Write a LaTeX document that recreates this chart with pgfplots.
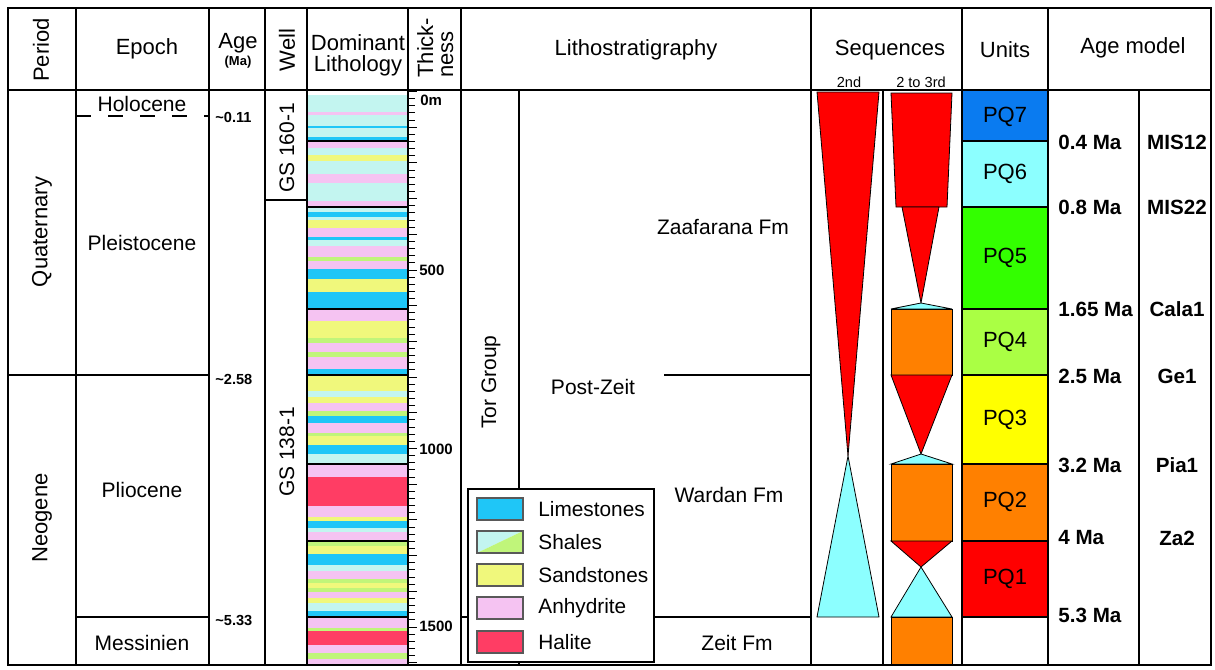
\documentclass[border=0pt]{standalone}
\usepackage{fontspec}
\setmainfont{Liberation Sans}
\usepackage{pgfplots}
\pgfplotsset{compat=1.18}

% lithology colours
\definecolor{shale}{HTML}{C3F5F0}
\definecolor{shgreen}{HTML}{C0F57A}
\definecolor{anhy}{HTML}{F5C3F2}
\definecolor{sand}{HTML}{F0F87C}
\definecolor{lime}{HTML}{1FC6F7}
\definecolor{hal}{HTML}{FF3D64}
% sequence and unit colours
\definecolor{sred}{HTML}{FF0000}
\definecolor{scyan}{HTML}{8CFFFF}
\definecolor{sorange}{HTML}{FF8000}
\definecolor{pqseven}{HTML}{0A7BF0}
\definecolor{pqsix}{HTML}{8CFFFF}
\definecolor{pqfive}{HTML}{33FF00}
\definecolor{pqfour}{HTML}{AAFF44}
\definecolor{pqthree}{HTML}{FFFF00}
\definecolor{pqtwo}{HTML}{FF8000}
\definecolor{pqone}{HTML}{FF0000}

% a lithology bed: colour, top, base
\newcommand{\bed}[3]{\addplot[draw=none, fill=#1] coordinates {(308,#2) (408,#2) (408,#3) (308,#3)} -- cycle;}
% filled box: colour, x1, x2, top, base
\newcommand{\fillbox}[5]{\addplot[draw=none, fill=#1] coordinates {(#2,#4) (#3,#4) (#3,#5) (#2,#5)} -- cycle;}
% horizontal rule: y, x1, x2
\newcommand{\hseg}[3]{\addplot[black, line width=1pt] coordinates {(#2,#1) (#3,#1)};}
% vertical rule: x, y1, y2
\newcommand{\vseg}[3]{\addplot[black, line width=1pt] coordinates {(#1,#2) (#1,#3)};}

\newcommand{\fs}[1]{\fontsize{#1}{#1}\selectfont}

\begin{document}
\begin{tikzpicture}
\begin{axis}[name=main,
  scale only axis, width=607.5pt, height=334pt,
  xmin=0, xmax=1215, ymin=0, ymax=668, y dir=reverse,
  hide axis, clip=false, line cap=rect]

% ---- lithology column (GS 160-1 and GS 138-1)
\bed{shale}{95}{111.7}
\bed{anhy}{111.7}{115}
\bed{shale}{115}{126}
\bed{lime}{126}{127.7}
\bed{shale}{127.7}{136.7}
\bed{lime}{136.7}{141}
\bed{anhy}{141}{147.7}
\bed{shale}{147.7}{155}
\bed{sand}{155}{160.7}
\bed{shale}{160.7}{174}
\bed{anhy}{174}{183.3}
\bed{shale}{183.3}{201}
\bed{anhy}{201}{206.5}
\bed{shale}{206.5}{211.7}
\bed{lime}{211.7}{216.7}
\bed{shale}{216.7}{220}
\bed{sand}{220}{227.7}
\bed{anhy}{227.7}{236.7}
\bed{lime}{236.7}{240}
\bed{shale}{240}{245.7}
\bed{anhy}{245.7}{256.7}
\bed{shgreen}{256.7}{261}
\bed{anhy}{261}{269}
\bed{lime}{269}{279}
\bed{sand}{279}{292}
\bed{lime}{292}{309}
\bed{anhy}{309}{320.7}
\bed{sand}{320.7}{338.3}
\bed{shgreen}{338.3}{343.3}
\bed{anhy}{343.3}{352.3}
\bed{shgreen}{352.3}{357.3}
\bed{anhy}{357.3}{368.7}
\bed{lime}{368.7}{375}
\bed{sand}{375}{390.7}
\bed{shale}{390.7}{397.3}
\bed{sand}{397.3}{403.3}
\bed{anhy}{403.3}{411}
\bed{shgreen}{411}{415.7}
\bed{lime}{415.7}{423.3}
\bed{anhy}{423.3}{433.3}
\bed{shgreen}{433.3}{436}
\bed{sand}{436}{445}
\bed{lime}{445}{454}
\bed{shale}{454}{464}
\bed{anhy}{464}{476.7}
\bed{hal}{476.7}{506}
\bed{anhy}{506}{517.3}
\bed{sand}{517.3}{520.7}
\bed{lime}{520.7}{528.3}
\bed{shale}{528.3}{531.7}
\bed{anhy}{531.7}{541}
\bed{shgreen}{541}{546}
\bed{sand}{546}{554}
\bed{lime}{554}{565}
\bed{shale}{565}{571}
\bed{anhy}{571}{579.3}
\bed{shgreen}{579.3}{582.7}
\bed{sand}{582.7}{588.3}
\bed{shgreen}{588.3}{591.7}
\bed{anhy}{591.7}{597.7}
\bed{sand}{597.7}{603.3}
\bed{shale}{603.3}{610.7}
\bed{lime}{610.7}{617}
\bed{anhy}{617}{627.7}
\bed{shgreen}{627.7}{631}
\bed{hal}{631}{645}
\bed{anhy}{645}{652.7}
\bed{shgreen}{652.7}{659.3}
\bed{anhy}{659.3}{665}
% core boundaries
\hseg{141}{308}{408}
\hseg{206.5}{308}{408}
\hseg{309}{308}{408}
\hseg{375}{308}{408}
\hseg{464}{308}{408}
\hseg{541}{308}{408}
\hseg{617}{308}{408}

% ---- sequences, 2nd order
\addplot[fill=sred, draw=black, line width=0.4pt] coordinates {(817,92) (879,92) (848,456)} -- cycle;
\addplot[fill=scyan, draw=black, line width=0.4pt] coordinates {(848,456) (879,617) (817,617)} -- cycle;
% ---- sequences, 2nd to 3rd order
\addplot[fill=sred, draw=black, line width=0.4pt] coordinates {(891,93) (952,93) (947,207) (896,207)} -- cycle;
\addplot[fill=sred, draw=black, line width=0.4pt] coordinates {(902,207) (939,207) (921,303)} -- cycle;
\addplot[fill=scyan, draw=black, line width=0.4pt] coordinates {(921,303) (952,309) (891,309)} -- cycle;
\addplot[fill=sorange, draw=black, line width=0.4pt] coordinates {(891,309) (952,309) (952,375) (891,375)} -- cycle;
\addplot[fill=sred, draw=black, line width=0.4pt] coordinates {(891,375) (952,375) (921,454)} -- cycle;
\addplot[fill=scyan, draw=black, line width=0.4pt] coordinates {(921,454) (952,464) (891,464)} -- cycle;
\addplot[fill=sorange, draw=black, line width=0.4pt] coordinates {(891,464) (952,464) (952,541) (891,541)} -- cycle;
\addplot[fill=sred, draw=black, line width=0.4pt] coordinates {(891,541) (952,541) (921,567)} -- cycle;
\addplot[fill=scyan, draw=black, line width=0.4pt] coordinates {(921,567) (952,617) (891,617)} -- cycle;
\addplot[fill=sorange, draw=black, line width=0.4pt] coordinates {(891,617) (952,617) (952,665) (891,665)} -- cycle;

% ---- units
\fillbox{pqseven}{962}{1048}{90}{141}
\fillbox{pqsix}{962}{1048}{141}{207}
\fillbox{pqfive}{962}{1048}{207}{309}
\fillbox{pqfour}{962}{1048}{309}{375}
\fillbox{pqthree}{962}{1048}{375}{464}
\fillbox{pqtwo}{962}{1048}{464}{541}
\fillbox{pqone}{962}{1048}{541}{617}
\hseg{141}{962}{1048}
\hseg{207}{962}{1048}
\hseg{309}{962}{1048}
\hseg{375}{962}{1048}
\hseg{464}{962}{1048}
\hseg{541}{962}{1048}
\hseg{617}{962}{1048}

% ---- frame and column rules
\hseg{8}{8}{1211}
\hseg{90}{8}{1211}
\hseg{665}{8}{1211}
\vseg{8}{8}{665}
\vseg{76}{8}{665}
\vseg{209}{8}{665}
\vseg{265}{8}{665}
\vseg{307}{8}{665}
\vseg{408}{8}{665}
\vseg{461}{8}{665}
\vseg{519}{90}{665}
\vseg{811}{8}{665}
\vseg{883}{90}{665}
\vseg{962}{8}{665}
\vseg{1048}{8}{665}
\vseg{1139}{90}{665}
\vseg{1211}{8}{665}
\hseg{375}{8}{209}
\hseg{617}{76}{209}
\addplot[black, line width=1pt, line cap=butt, dash pattern=on 7.5pt off 8.5pt] coordinates {(76,116) (209,116)};
\hseg{200}{265}{307}
\hseg{375}{665}{811}
\hseg{617}{461}{811}

% ---- legend
\addplot[fill=white, draw=black, line width=1pt] coordinates {(468,489) (654,489) (654,662) (468,662)} -- cycle;
\addplot[fill=lime, draw=black!65, line width=0.6pt] coordinates {(477,498) (523,498) (523,520) (477,520)} -- cycle;
\addplot[fill=shale, draw=none] coordinates {(477,531) (523,531) (477,553)} -- cycle;
\addplot[fill=shgreen, draw=none] coordinates {(523,531) (523,553) (477,553)} -- cycle;
\addplot[draw=black!65, line width=0.6pt] coordinates {(477,531) (523,531) (523,553) (477,553)} -- cycle;
\addplot[fill=sand, draw=black!65, line width=0.6pt] coordinates {(477,564) (523,564) (523,586) (477,586)} -- cycle;
\addplot[fill=anhy, draw=black!65, line width=0.6pt] coordinates {(477,597) (523,597) (523,619) (477,619)} -- cycle;
\addplot[fill=hal, draw=black!65, line width=0.6pt] coordinates {(477,631) (523,631) (523,653) (477,653)} -- cycle;
\node[anchor=west, inner sep=0pt, font=\fs{10.4pt}] at (538,509) {Limestones};
\node[anchor=west, inner sep=0pt, font=\fs{10.4pt}] at (538,542) {Shales};
\node[anchor=west, inner sep=0pt, font=\fs{10.4pt}] at (538,575) {Sandstones};
\node[anchor=west, inner sep=0pt, font=\fs{10.4pt}] at (538,608) {Anhydrite};
\node[anchor=west, inner sep=0pt, font=\fs{10.4pt}] at (538,642) {Halite};

% ---- header
\node[rotate=90, font=\fs{11pt}] at (41,50) {Period};
\node[font=\fs{11pt}] at (147,49) {Epoch};
\node[font=\fs{11pt}] at (238,43) {Age};
\node[font=\fs{6.5pt}\bfseries] at (238,62) {(Ma)};
\node[rotate=90, font=\fs{11pt}] at (287,50) {Well};
\node[font=\fs{11pt}] at (358,43) {Dominant};
\node[font=\fs{11pt}] at (358,66) {Lithology};
\node[rotate=90, anchor=base west, font=\fs{11pt}, inner sep=0pt] at (433,78) {Thick-};
\node[rotate=90, anchor=base west, font=\fs{11pt}, inner sep=0pt] at (453,78) {ness};
\node[font=\fs{11pt}] at (636,50) {Lithostratigraphy};
\node[font=\fs{11pt}] at (890,50) {Sequences};
\node[font=\fs{7.3pt}] at (849,82) {2nd};
\node[font=\fs{7.3pt}] at (921,82) {2 to 3rd};
\node[font=\fs{11pt}] at (1005,50) {Units};
\node[font=\fs{11pt}] at (1133,48) {Age model};

% ---- period / epoch / age / well
\node[rotate=90, font=\fs{11pt}] at (42,232) {Quaternary};
\node[rotate=90, font=\fs{11pt}] at (42,518) {Neogene};
\node[font=\fs{10.5pt}] at (142,104) {Holocene};
\node[font=\fs{10.5pt}] at (142,243) {Pleistocene};
\node[font=\fs{10.5pt}] at (142,490) {Pliocene};
\node[font=\fs{10.5pt}] at (142,643) {Messinien};
\node[anchor=west, inner sep=0pt, font=\fs{7.3pt}\bfseries] at (215,117) {\textasciitilde0.11};
\node[anchor=west, inner sep=0pt, font=\fs{7.3pt}\bfseries] at (215,379) {\textasciitilde2.58};
\node[anchor=west, inner sep=0pt, font=\fs{7.3pt}\bfseries] at (215,620) {\textasciitilde5.33};
\node[rotate=90, font=\fs{10.5pt}] at (287,148) {GS 160-1};
\node[rotate=90, font=\fs{10.5pt}] at (287,452) {GS 138-1};

% ---- thickness labels
\node[anchor=west, inner sep=0pt, font=\fs{7.5pt}\bfseries] at (420,100) {0m};
\node[anchor=west, inner sep=0pt, font=\fs{7.5pt}\bfseries] at (419,270) {500};
\node[anchor=west, inner sep=0pt, font=\fs{7.5pt}\bfseries] at (419,449) {1000};
\node[anchor=west, inner sep=0pt, font=\fs{7.5pt}\bfseries] at (419,626) {1500};

% ---- lithostratigraphy
\node[rotate=90, font=\fs{10.5pt}] at (491,382) {Tor Group};
\node[font=\fs{10.5pt}] at (723,227) {Zaafarana Fm};
\node[font=\fs{10.5pt}] at (593,387) {Post-Zeit};
\node[font=\fs{10.5pt}] at (729,495) {Wardan Fm};
\node[font=\fs{10.5pt}] at (737,643) {Zeit Fm};

% ---- units labels
\node[font=\fs{11pt}] at (1005,117) {PQ7};
\node[font=\fs{11pt}] at (1005,174) {PQ6};
\node[font=\fs{11pt}] at (1005,258) {PQ5};
\node[font=\fs{11pt}] at (1005,342) {PQ4};
\node[font=\fs{11pt}] at (1005,420) {PQ3};
\node[font=\fs{11pt}] at (1005,502) {PQ2};
\node[font=\fs{11pt}] at (1005,579) {PQ1};

% ---- age model
\node[anchor=west, inner sep=0pt, font=\fs{10.3pt}\bfseries] at (1058,142) {0.4 Ma};
\node[anchor=west, inner sep=0pt, font=\fs{10.3pt}\bfseries] at (1058,207) {0.8 Ma};
\node[anchor=west, inner sep=0pt, font=\fs{10.3pt}\bfseries] at (1058,309) {1.65 Ma};
\node[anchor=west, inner sep=0pt, font=\fs{10.3pt}\bfseries] at (1058,376) {2.5 Ma};
\node[anchor=west, inner sep=0pt, font=\fs{10.3pt}\bfseries] at (1058,465) {3.2 Ma};
\node[anchor=west, inner sep=0pt, font=\fs{10.3pt}\bfseries] at (1058,538) {4 Ma};
\node[anchor=west, inner sep=0pt, font=\fs{10.3pt}\bfseries] at (1058,615) {5.3 Ma};
\node[font=\fs{10.3pt}\bfseries] at (1177,142) {MIS12};
\node[font=\fs{10.3pt}\bfseries] at (1177,207) {MIS22};
\node[font=\fs{10.3pt}\bfseries] at (1177,309) {Cala1};
\node[font=\fs{10.3pt}\bfseries] at (1177,376) {Ge1};
\node[font=\fs{10.3pt}\bfseries] at (1177,465) {Pia1};
\node[font=\fs{10.3pt}\bfseries] at (1177,538) {Za2};
\end{axis}

% thickness scale in metres beside the lithology column
\begin{axis}[
  scale only axis, at={(204pt,0pt)}, anchor=south west,
  width=6pt, height=334pt,
  xmin=0, xmax=1, y dir=reverse, ymin=-256.3, ymax=1614.8,
  hide x axis, axis y line*=left, y axis line style={draw=none},
  ytick={0,100,...,1600}, minor ytick={0,20,...,1600},
  yticklabels={}, tick align=inside,
  major tick length=4.5pt, minor tick length=3.5pt,
  every tick/.style={black, line width=0.5pt}]
\end{axis}

% the page spans the whole chart area
\path (main.south west) rectangle (main.north east);
\end{tikzpicture}
\end{document}
